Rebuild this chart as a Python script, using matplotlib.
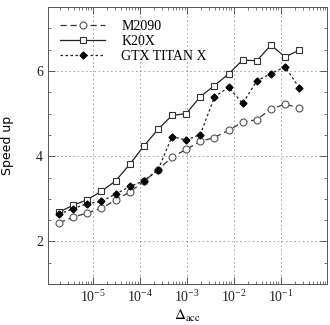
import matplotlib
matplotlib.use("Agg")
import matplotlib.pyplot as plt
import numpy as np
from matplotlib.ticker import FixedLocator, LogLocator, MultipleLocator, NullFormatter

plt.rcParams['font.family'] = ['Liberation Serif', 'DejaVu Serif']
plt.rcParams['mathtext.fontset'] = 'stix'

# accuracy parameter, 2^-19 ... 2^-2
delta_acc = 2.0 ** np.arange(-19, -1)

m2090 = [2.44, 2.57, 2.67, 2.78, 2.97, 3.16, 3.41, 3.68, 3.98, 4.16, 4.35,
         4.44, 4.61, 4.80, 4.86, 5.11, 5.22, 5.14]
k20x = [2.69, 2.85, 2.98, 3.18, 3.42, 3.81, 4.24, 4.63, 4.96, 5.00, 5.40,
        5.66, 5.93, 6.26, 6.24, 6.61, 6.33, 6.49]
titanx = [2.64, 2.77, 2.89, 2.94, 3.11, 3.29, 3.42, 3.68, 4.46, 4.38, 4.51,
          5.39, 5.62, 5.24, 5.77, 5.94, 6.10, 5.61]
xticks = [1e-5, 1e-4, 1e-3, 1e-2, 1e-1]

fig = plt.figure(figsize=(3.3, 3.25), dpi=100)
ax = fig.add_axes([0.145, 0.126, 0.846, 0.852])

ax.plot(delta_acc, m2090, ls=(0, (5, 3)), color='#333333', lw=0.9,
        marker='o', ms=5, mfc='white', mec='#555555', mew=0.8, label='M2090')
ax.plot(delta_acc, k20x, ls='-', color='#222222', lw=0.9,
        marker='s', ms=5, mfc='white', mec='#333333', mew=0.8, label='K20X')
ax.plot(delta_acc, titanx, ls=(0, (2, 2)), color='#222222', lw=0.9,
        marker='D', ms=3.5, mfc='black', mec='black', label='GTX TITAN X')

ax.set_xscale('log')
ax.set_xlim(1.1e-6, 0.98)
ax.set_ylim(1, 7.5)
ax.yaxis.set_major_locator(MultipleLocator(2))
ax.yaxis.set_minor_locator(MultipleLocator(0.5))
ax.xaxis.set_major_locator(FixedLocator(xticks))
ax.xaxis.set_minor_locator(LogLocator(base=10, subs=np.arange(2, 10), numticks=10))
ax.xaxis.set_minor_formatter(NullFormatter())

ax.tick_params(which='both', direction='in', top=True, right=True,
               labelsize=10, colors='#444444', labelcolor='#222222')
ax.tick_params(which='major', length=5, width=0.6)
ax.tick_params(which='minor', length=2.5, width=0.5)
for s in ax.spines.values():
    s.set_color('#555555')
    s.set_linewidth(0.7)

ax.grid(True, which='major', ls=(0, (2, 3)), color='#999999', lw=0.6)

ax.set_xlabel(r'$\mathit{\Delta}_{\rm acc}$', fontsize=11, labelpad=2)
ax.set_ylabel('Speed up', fontsize=9, family='DejaVu Sans', labelpad=16)

ax.legend(loc='upper left', frameon=False, fontsize=10, handlelength=3.2,
          borderaxespad=0.5, labelspacing=0.15, handletextpad=1.2)

fig.savefig('out.png', dpi=100)
